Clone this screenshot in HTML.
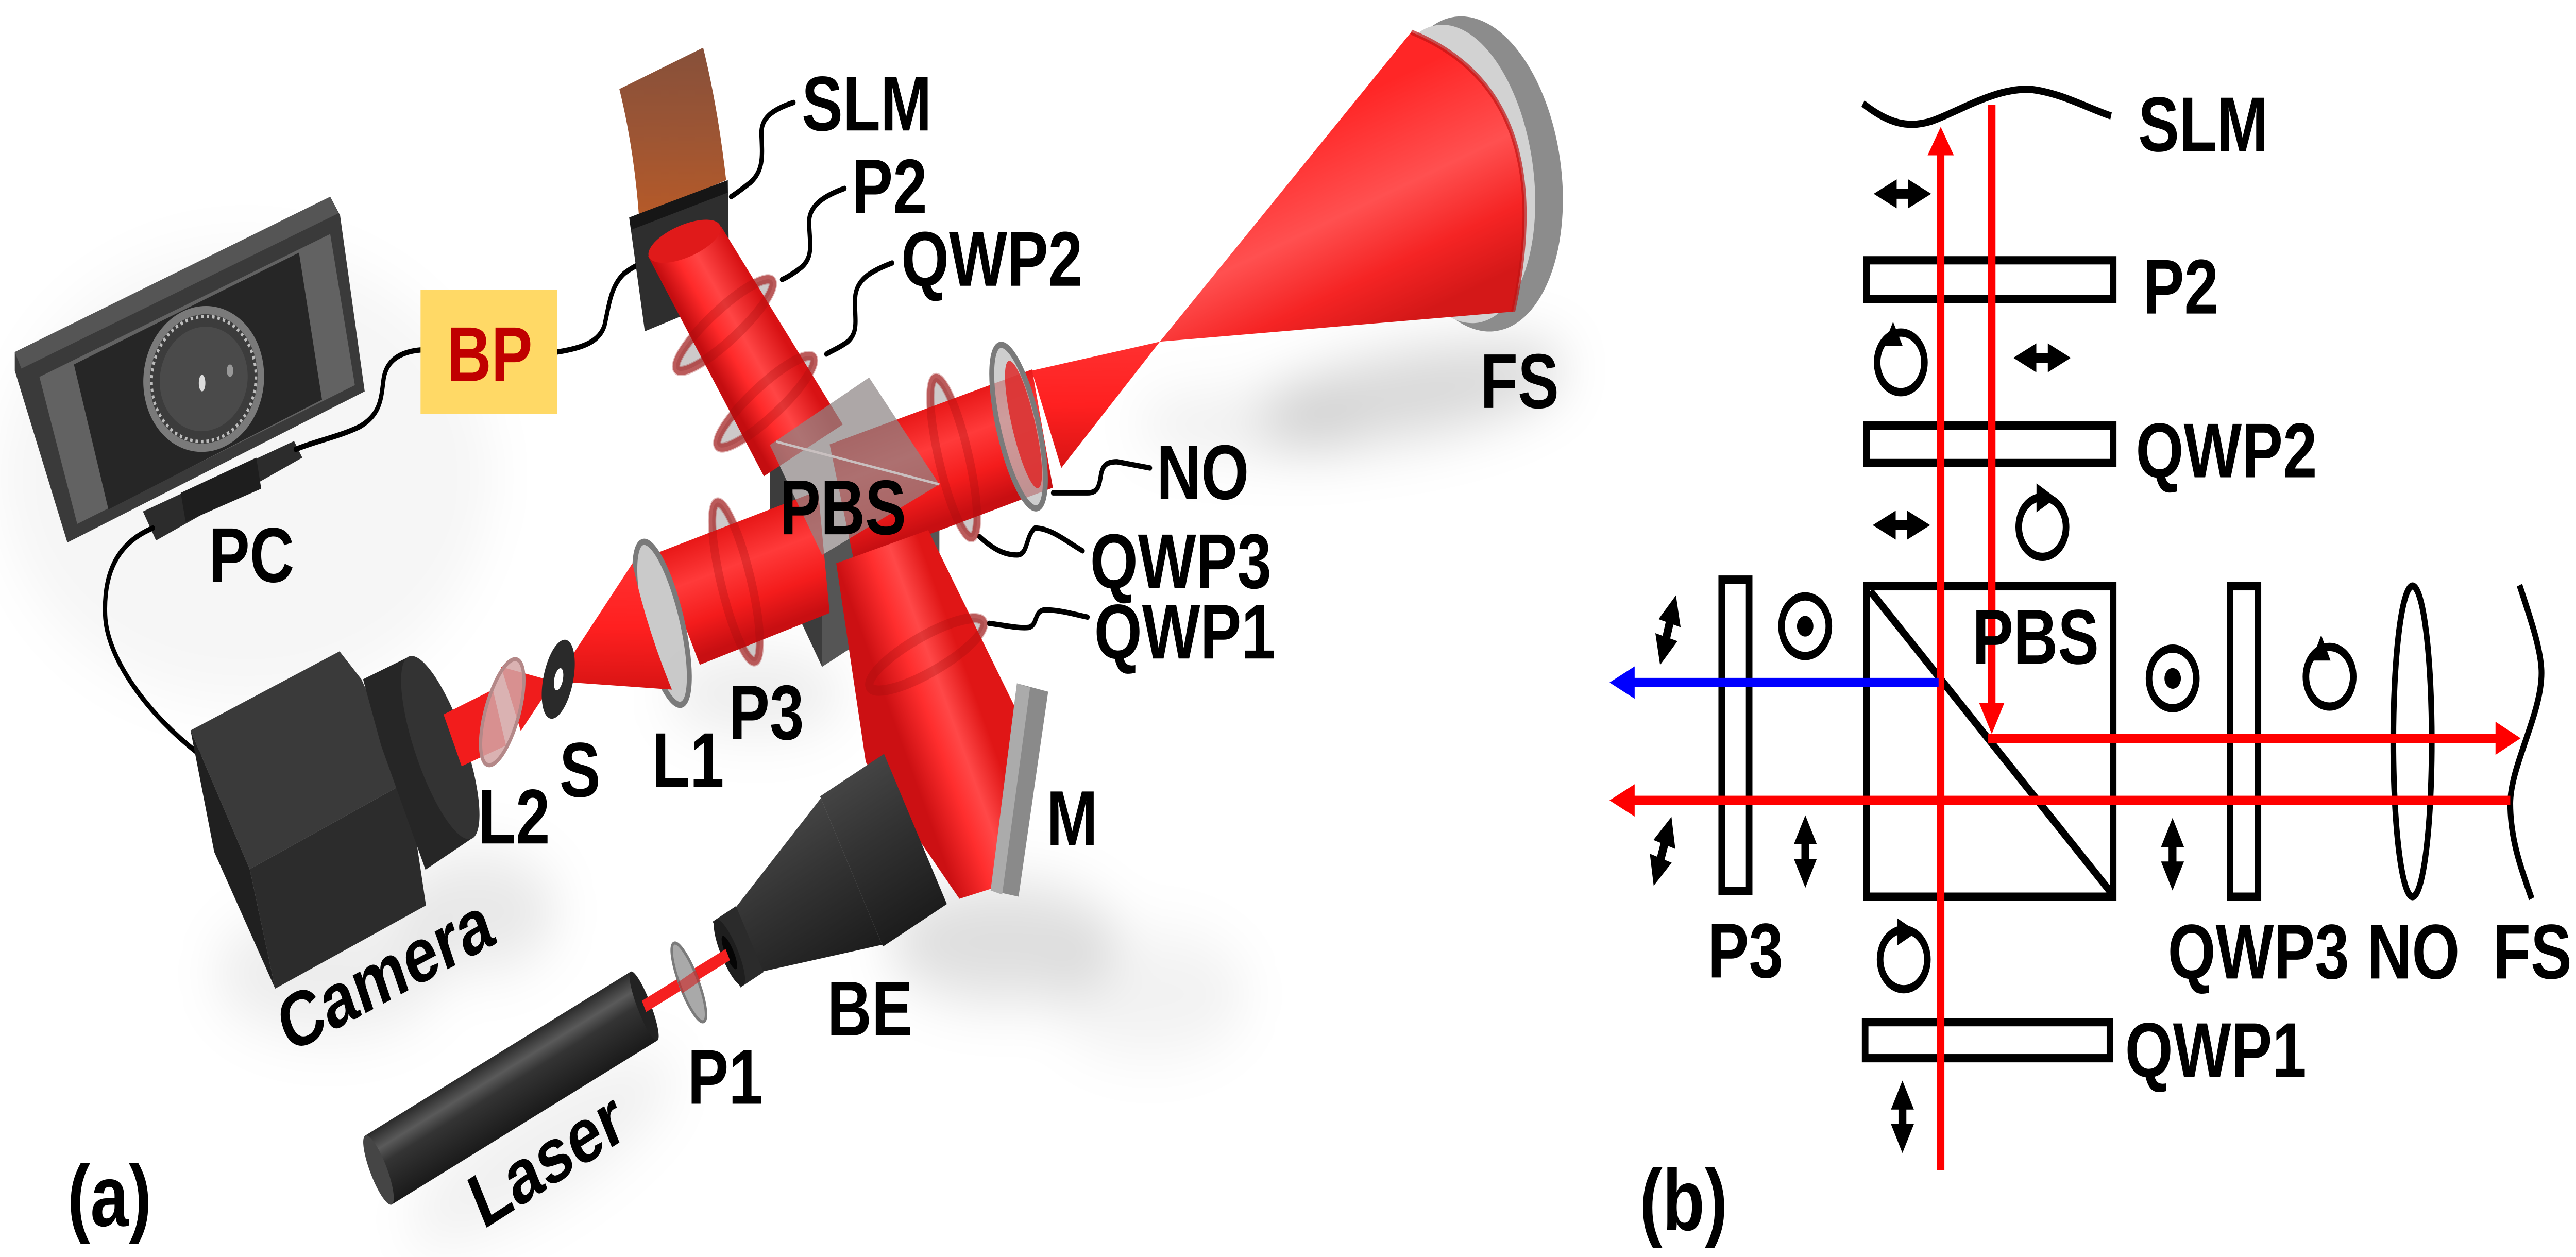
<!DOCTYPE html>
<html><head><meta charset="utf-8"><style>
html,body{margin:0;padding:0;background:#fff;width:100%;height:100%;overflow:hidden}
svg{display:block;position:fixed;left:0;top:0;width:100vw;height:100vh}
text{font-family:"Liberation Sans",Arial,sans-serif;font-weight:bold;font-size:37.5px;fill:#000}
</style></head><body>
<svg xmlns="http://www.w3.org/2000/svg" width="100%" height="100%" viewBox="0 0 1568 607" preserveAspectRatio="none">
<defs>
<filter id="b14" x="-60%" y="-60%" width="220%" height="220%"><feGaussianBlur stdDeviation="14"/></filter>
<linearGradient id="gUp" gradientUnits="userSpaceOnUse" x1="399" y1="129" x2="434.5" y2="103.7">
<stop offset="0" stop-color="#c40d10"/><stop offset="0.3" stop-color="#ff2a2a"/><stop offset="0.55" stop-color="#ff4545"/><stop offset="1" stop-color="#d81214"/></linearGradient>
<linearGradient id="gR" gradientUnits="userSpaceOnUse" x1="547" y1="202" x2="563" y2="255">
<stop offset="0" stop-color="#e81818"/><stop offset="0.35" stop-color="#ff3a3a"/><stop offset="0.7" stop-color="#f41c1c"/><stop offset="1" stop-color="#c80f12"/></linearGradient>
<linearGradient id="gL" gradientUnits="userSpaceOnUse" x1="406" y1="265" x2="422" y2="318">
<stop offset="0" stop-color="#e81818"/><stop offset="0.35" stop-color="#ff3a3a"/><stop offset="0.7" stop-color="#f41c1c"/><stop offset="1" stop-color="#c80f12"/></linearGradient>
<linearGradient id="gD" gradientUnits="userSpaceOnUse" x1="509" y1="272" x2="555" y2="251">
<stop offset="0" stop-color="#cc1013"/><stop offset="0.4" stop-color="#ff2e2e"/><stop offset="0.65" stop-color="#ff4848"/><stop offset="1" stop-color="#e01616"/></linearGradient>
<linearGradient id="gFS" gradientUnits="userSpaceOnUse" x1="790" y1="60" x2="830" y2="165">
<stop offset="0" stop-color="#ff2626"/><stop offset="0.45" stop-color="#ff5050"/><stop offset="0.75" stop-color="#f52424"/><stop offset="1" stop-color="#d41818"/></linearGradient>
<linearGradient id="gC" x1="0" y1="0" x2="0" y2="1">
<stop offset="0" stop-color="#ff3030"/><stop offset="0.5" stop-color="#ff2020"/><stop offset="1" stop-color="#d81414"/></linearGradient>
<linearGradient id="gSLM" x1="0" y1="0" x2="0" y2="1">
<stop offset="0" stop-color="#87503a"/><stop offset="0.5" stop-color="#9c5534"/><stop offset="1" stop-color="#b65a28"/></linearGradient>
<linearGradient id="gCyl" x1="0" y1="0" x2="0" y2="1">
<stop offset="0" stop-color="#2a2a2a"/><stop offset="0.25" stop-color="#5a5a5a"/><stop offset="0.45" stop-color="#343434"/><stop offset="1" stop-color="#1a1a1a"/></linearGradient>
<linearGradient id="gBE" x1="0" y1="0" x2="0" y2="1">
<stop offset="0" stop-color="#444"/><stop offset="0.4" stop-color="#333"/><stop offset="1" stop-color="#1c1c1c"/></linearGradient>
</defs>

<rect x="0" y="0" width="1568" height="607" fill="#fff"/>

<!-- ===== Panel (a) shadows ===== -->
<g filter="url(#b14)">
<ellipse cx="150" cy="230" rx="150" ry="110" fill="#000" opacity="0.035"/>
<ellipse cx="860" cy="190" rx="95" ry="20" fill="#000" opacity="0.16" transform="rotate(-8 860 190)"/>
<ellipse cx="760" cy="205" rx="70" ry="14" fill="#000" opacity="0.07"/>
<ellipse cx="610" cy="455" rx="70" ry="28" fill="#000" opacity="0.13"/>
<ellipse cx="700" cy="480" rx="60" ry="30" fill="#000" opacity="0.05"/>
<ellipse cx="290" cy="440" rx="50" ry="28" fill="#000" opacity="0.09"/>
<ellipse cx="460" cy="335" rx="55" ry="18" fill="#000" opacity="0.08"/>
<ellipse cx="330" cy="555" rx="90" ry="25" fill="#000" opacity="0.06" transform="rotate(-26 330 555)"/>
<ellipse cx="200" cy="470" rx="70" ry="30" fill="#000" opacity="0.07"/>
</g>

<!-- ===== Monitor (PC) ===== -->
<polygon points="9,170 201,95 207,104 222,189 41,262 9,179" fill="#3a3a3a"/>
<polygon points="9,170 201,95 206,103 13,178" fill="#555"/>
<polygon points="24,182 201,113 216,186 47,253" fill="#626262"/>
<polygon points="45,176 182,122 196,193 66,246" fill="#262626"/>
<ellipse cx="124" cy="183" rx="35" ry="33" fill="#3c3c3c" stroke="#7a7a7a" stroke-width="4" transform="rotate(-20 124 183)"/>
<ellipse cx="124" cy="183" rx="32" ry="30" fill="none" stroke="#bdbdbd" stroke-width="1.6" stroke-dasharray="1.5 1.8" transform="rotate(-20 124 183)"/>
<ellipse cx="124" cy="183" rx="27" ry="25" fill="#4a4a4a" transform="rotate(-20 124 183)"/>
<ellipse cx="123" cy="185" rx="2" ry="4" fill="#ddd"/>
<ellipse cx="140" cy="179" rx="2" ry="3" fill="#999"/>
<polygon points="87,247 179,213 184,221 95,261" fill="#2c2c2c"/>
<polygon points="110,238 156,221 159,236 113,252" fill="#1e1e1e"/>

<!-- cables -->
<g fill="none" stroke="#000" stroke-width="2.6" stroke-linecap="round">
<path d="M256,169 C242,170 235,175 233.5,183 C232,192 232,200 219,206 C206,211 192,213 180,217"/>
<path d="M93,255 C72,262 63,276 64,297 C65,318 90,345 121,364"/>
<path d="M339,170 C355,168 365,165 368,157 C371,146 372,138 380,132 C385,129 388,128 391,127"/>
<path d="M483,49.5 C470,53 463,57 463.5,65 C464,75 465,82 457,88 C452,91 449,93 445,95"/>
<path d="M514,91 C500,95 492,100 492.5,108 C493,118 495,124 488,129 C483,132 479,134 476,135"/>
<path d="M543,127 C530,131 521,135 520.5,144 C520,154 523,160 516,165 C511,168 507,169 503,171"/>
<path d="M641,238 L662,238 C668,238 669,235 670,230 C671,225 673,223 680,223 L700,226"/>
<path d="M596,259 C603,264 610,268 619,268 C626,268 624,259 630,255 C640,255 650,262 659,266"/>
<path d="M602,301 C612,302 620,303.5 626,303 C632,302 629,295 636,294.5 C645,294.5 653,296.5 662,298"/>
</g>

<!-- BP box -->
<rect x="256" y="140" width="83" height="60" fill="#ffd966"/>
<text x="272" y="184" style="fill:#c00000">BP</text>

<!-- SLM -->
<path d="M377,43 L428,23 Q437,52 442,87 L389,105 Q386,72 377,43 Z" fill="url(#gSLM)"/>
<polygon points="383,105 443,87 444,143 392.5,160" fill="#2e2e2e"/>
<polygon points="383,105 443,87 443,93 384,111" fill="#161616"/>

<!-- FS disc and cones -->
<ellipse cx="898" cy="84" rx="52" ry="77" fill="#8c8c8c" transform="rotate(-12 898 84)"/>
<ellipse cx="887" cy="84" rx="46" ry="73" fill="#d2d2d2" transform="rotate(-12 887 84)"/>
<path d="M706,165 L859,15.5 Q950,45 921,150.5 Z" fill="url(#gFS)"/>
<path d="M859,15.5 Q950,45 921,150.5" fill="none" stroke="#c01414" stroke-width="2.5" opacity="0.7"/>
<polygon points="628,179 706,165 646,226" fill="url(#gC)"/>

<!-- PBS cube dark faces -->
<polygon points="468.6,214.9 500.4,268 500.4,322 468.6,268" fill="#3c3c3c"/>
<polygon points="500.4,268 571.8,233.9 571.8,285 500.4,322" fill="#555"/>

<!-- lens discs (behind beams) -->
<g fill="#c4c0c0" fill-opacity="0.85" stroke="#b04040" stroke-width="4" stroke-opacity="0.7">
<ellipse rx="8" ry="36" transform="translate(441,157) rotate(54)"/>
<ellipse rx="8" ry="36" transform="translate(466,194) rotate(54)"/>
<ellipse rx="9" ry="40" transform="translate(580.5,221) rotate(-16.4)"/>
<ellipse rx="9" ry="40" transform="translate(448,281) rotate(-17)"/>
<ellipse rx="9" ry="38" transform="translate(564,316) rotate(66)"/>
</g>

<!-- beams -->
<polygon points="394.5,123.7 438.9,109.3 513,205 465,230" fill="url(#gUp)"/>
<ellipse cx="416.7" cy="116.5" rx="23" ry="8" fill="#e01a1a" transform="rotate(-18 416.7 116.5)"/>
<polygon points="505,214.6 628.2,178.4 640.9,235.5 520,271.7" fill="url(#gR)"/>
<polygon points="400,267 498,237 505,296 426,321" fill="url(#gL)"/>
<polygon points="509,272 565,256 620,345 620,425 584,434 527,368" fill="url(#gD)"/>

<!-- rim overlays (soft bands) -->
<g fill="none" stroke="#9a0e0e" stroke-width="5" stroke-opacity="0.28">
<ellipse rx="8" ry="36" transform="translate(441,157) rotate(54)"/>
<ellipse rx="8" ry="36" transform="translate(466,194) rotate(54)"/>
<ellipse rx="9" ry="40" transform="translate(580.5,221) rotate(-16.4)"/>
<ellipse rx="9" ry="40" transform="translate(448,281) rotate(-17)"/>
<ellipse rx="9" ry="38" transform="translate(564,316) rotate(66)"/>
</g>

<!-- NO lens -->
<ellipse rx="12" ry="41" transform="translate(620,206) rotate(-16.4)" fill="#bdbdbd" fill-opacity="0.75" stroke="#7a7a7a" stroke-width="3"/>
<ellipse rx="7" ry="32" transform="translate(623,205) rotate(-16.4)" fill="#e02020" fill-opacity="0.8"/>

<!-- PBS top face translucent -->
<polygon points="468.6,214.9 529,182.3 571.8,233.9 500.4,268" fill="#8e8585" fill-opacity="0.72"/>
<line x1="472.6" y1="213.3" x2="571.8" y2="233.9" stroke="#c9c0c0" stroke-width="1.2"/>

<!-- Mirror M -->
<polygon points="619,330 638,334 620,433 603,430" fill="#8a8a8a"/>
<polygon points="619,330 627,332 610,432 603,430" fill="#ababab"/>

<!-- Beam expander BE -->
<g transform="translate(444,460) rotate(-27.8)">
<rect x="84" y="-41" width="44" height="82" fill="url(#gBE)"/>
<polygon points="12,-17 84,-40 84,40 12,17" fill="url(#gBE)"/>
<rect x="-2" y="-18" width="16" height="36" fill="#2b2b2b"/>
<ellipse cx="0" cy="0" rx="5" ry="18" fill="#1e1e1e"/>
<ellipse cx="0" cy="0" rx="2.5" ry="9" fill="#050505"/>
</g>

<!-- Laser -->
<g transform="translate(230.4,565) rotate(-26.1)">
<rect x="0" y="-18.5" width="180" height="37" fill="url(#gCyl)"/>
<ellipse cx="0" cy="0" rx="5" ry="18.5" fill="#454545"/>
<ellipse cx="180" cy="0" rx="4" ry="18.5" fill="#222"/>
</g>
<line x1="392" y1="486" x2="443" y2="461" stroke="#f52020" stroke-width="6"/>
<ellipse rx="5.5" ry="21" transform="translate(419.3,474.4) rotate(-26)" fill="#a9a9a9" stroke="#7a7a7a" stroke-width="1.5"/>
<line x1="414" y1="477" x2="425" y2="471" stroke="#d02020" stroke-width="6" opacity="0.6"/>

<!-- L1 lens and cones -->
<ellipse rx="12" ry="41" transform="translate(403,301) rotate(-17)" fill="#bdbdbd" fill-opacity="0.8" stroke="#7a7a7a" stroke-width="3"/>
<path d="M385,272 L338,329 L409,333 Q393,302 385,272 Z" fill="url(#gC)"/>
<polygon points="337,329 305,322 317,353" fill="#f01c1c"/>

<!-- Camera -->
<polygon points="116,352.7 206.7,314.5 220,328 248,377.4 152,419.7" fill="#3a3a3a"/>
<polygon points="152,419.7 248,377.4 259.3,437.2 167.5,477.4" fill="#2c2c2c"/>
<polygon points="116,352.7 152,419.7 167.5,477.4 130.4,411.4" fill="#202020"/>
<polygon points="221,328 248,317.5 287,405 259,420 232,360" fill="#262626"/>
<ellipse rx="48" ry="15" transform="translate(268,361) rotate(66)" fill="#333"/>
<polygon points="270,345 300,333 308,360 281,370" fill="#f21c1c"/>
<ellipse rx="10" ry="27" transform="translate(305.7,343.9) rotate(20)" fill="#d3a4a4" fill-opacity="0.85" stroke="#b48888" stroke-width="2"/>
<ellipse rx="9" ry="19.6" transform="translate(339.8,328) rotate(15)" fill="#2a2a2a"/>
<ellipse rx="2.6" ry="5.5" transform="translate(340,328) rotate(15)" fill="#fff"/>

<!-- Panel (a) labels -->
<text x="488" y="63">SLM</text>
<text x="518.5" y="103">P2</text>
<text x="548.5" y="138">QWP2</text>
<text x="474.5" y="258">PBS</text>
<text x="704" y="241">NO</text>
<text x="663.5" y="284">QWP3</text>
<text x="666" y="318">QWP1</text>
<text x="901" y="197">FS</text>
<text x="637" y="408">M</text>
<text x="503.5" y="500">BE</text>
<text x="418.5" y="533">P1</text>
<text x="397" y="380">L1</text>
<text x="443.5" y="357">P3</text>
<text x="340.5" y="384.7">S</text>
<text x="291" y="407.3">L2</text>
<text x="127" y="281">PC</text>
<text transform="translate(176,509) rotate(-23)">Camera</text>
<text transform="translate(294,594) rotate(-27)">Laser</text>
<text x="41" y="592" style="font-size:42px">(a)</text>

<!-- ===== Panel (b) ===== -->
<g fill="none" stroke="#000" stroke-width="4">
<path d="M1134,50 C1150,60 1162,62 1176,58.4 C1192,54 1215,42 1236.6,43.2 C1255,45 1270,52 1285,56" stroke-width="3.5"/>
<rect x="1136.2" y="125.7" width="150.1" height="18.6"/>
<rect x="1136.2" y="205.5" width="150.1" height="18.1"/>
<rect x="1136.2" y="283.1" width="150.1" height="149.9"/>
<line x1="1138.5" y1="285.5" x2="1285" y2="431"/>
<rect x="1048" y="279.9" width="16.7" height="150.3"/>
<rect x="1357.4" y="283.1" width="17" height="149.9"/>
<rect x="1135.3" y="493.6" width="149" height="17.4"/>
<ellipse cx="1468.5" cy="358" rx="11.7" ry="75" stroke-width="3.5"/>
<path d="M1533.6,282.6 C1540,298 1547,314 1547,325 C1547,345 1528,370 1528,388 C1528,406 1535,420 1541,434" stroke-width="3.5"/>
<circle cx="1157" cy="175" r="14.4"/>
<circle cx="1243.2" cy="254.5" r="14.4"/>
<circle cx="1158.8" cy="463.3" r="14.4"/>
<circle cx="1418" cy="326.8" r="14.4"/>
<circle cx="1098.8" cy="302.4" r="14.4"/>
<circle cx="1322.5" cy="327.6" r="14.4"/>
</g>
<g fill="#000">
<circle cx="1098.8" cy="302.4" r="5"/>
<circle cx="1322.5" cy="327.6" r="5"/>
<polygon points="1152.3,155.4 1146.6,167 1158.1,167"/>
<polygon points="1239.6,233.4 1239.6,247.4 1251.5,240.5"/>
<polygon points="1155,443.5 1155,456.5 1167,450"/>
<polygon points="1412.9,306.7 1407,319 1418.6,319"/>
<path transform="translate(1158,93.6)" d="M-17.5,0 L-3.5,-7 L-3.5,-2.4 L3.5,-2.4 L3.5,-7 L17.5,0 L3.5,7 L3.5,2.4 L-3.5,2.4 L-3.5,7 Z"/>
<path transform="translate(1243,172.8)" d="M-17.5,0 L-3.5,-7 L-3.5,-2.4 L3.5,-2.4 L3.5,-7 L17.5,0 L3.5,7 L3.5,2.4 L-3.5,2.4 L-3.5,7 Z"/>
<path transform="translate(1157.4,253.6)" d="M-17.5,0 L-3.5,-7 L-3.5,-2.4 L3.5,-2.4 L3.5,-7 L17.5,0 L3.5,7 L3.5,2.4 L-3.5,2.4 L-3.5,7 Z"/>
<path transform="translate(1098.9,411.2) rotate(90)" d="M-17.5,0 L-3.5,-7 L-3.5,-2.4 L3.5,-2.4 L3.5,-7 L17.5,0 L3.5,7 L3.5,2.4 L-3.5,2.4 L-3.5,7 Z"/>
<path transform="translate(1322.4,412.5) rotate(90)" d="M-17.5,0 L-3.5,-7 L-3.5,-2.4 L3.5,-2.4 L3.5,-7 L17.5,0 L3.5,7 L3.5,2.4 L-3.5,2.4 L-3.5,7 Z"/>
<path transform="translate(1158,539.3) rotate(90)" d="M-17.5,0 L-3.5,-7 L-3.5,-2.4 L3.5,-2.4 L3.5,-7 L17.5,0 L3.5,7 L3.5,2.4 L-3.5,2.4 L-3.5,7 Z"/>
<path transform="translate(1015.3,304.3) rotate(106)" d="M-17.5,0 L-3.5,-7 L-3.5,-2.4 L3.5,-2.4 L3.5,-7 L17.5,0 L3.5,7 L3.5,2.4 L-3.5,2.4 L-3.5,7 Z"/>
<path transform="translate(1012,411.1) rotate(108)" d="M-17.5,0 L-3.5,-7 L-3.5,-2.4 L3.5,-2.4 L3.5,-7 L17.5,0 L3.5,7 L3.5,2.4 L-3.5,2.4 L-3.5,7 Z"/>
</g>

<!-- red / blue rays -->
<g stroke="#ff0000" stroke-width="4.5">
<line x1="1181.3" y1="565" x2="1181.3" y2="72"/>
<line x1="1212.4" y1="50.6" x2="1212.4" y2="342"/>
<line x1="1210.2" y1="356.5" x2="1521" y2="356.5"/>
<line x1="1528" y1="386.5" x2="993" y2="386.5"/>
</g>
<line x1="1180" y1="329.6" x2="993" y2="329.6" stroke="#0000ff" stroke-width="4.5"/>
<g fill="#ff0000">
<polygon points="1181.3,61.3 1173.3,75 1189.3,75"/>
<polygon points="1212.4,354.4 1204.7,339.5 1220,339.5"/>
<polygon points="1534.3,356.5 1519,348.5 1519,364.5"/>
<polygon points="979.7,386.5 995,378.7 995,394.3"/>
</g>
<polygon points="979.7,329.6 995,321.8 995,337.4" fill="#0000ff"/>

<!-- Panel (b) labels -->
<text x="1301.5" y="73">SLM</text>
<text x="1304.5" y="151.4">P2</text>
<text x="1300" y="230.5">QWP2</text>
<text x="1200.5" y="320.5">PBS</text>
<text x="1039.5" y="472">P3</text>
<text x="1319.5" y="472.5">QWP3</text>
<text x="1441" y="472.5">NO</text>
<text x="1517.5" y="472.5">FS</text>
<text x="1293.5" y="520">QWP1</text>
<text x="998" y="594" style="font-size:42px">(b)</text>
</svg>
</body></html>
